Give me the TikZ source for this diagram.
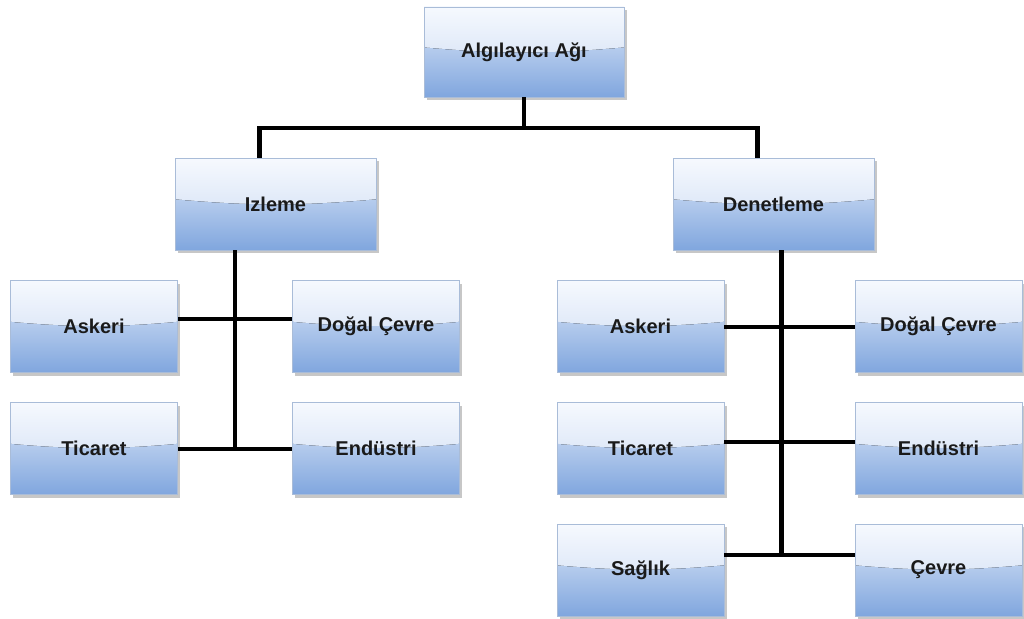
\documentclass[tikz,border=0pt]{standalone}
\usepackage{fontspec}
\setmainfont{Liberation Sans}
\usetikzlibrary{shadows,calc}

\definecolor{gA}{HTML}{F6F9FE}
\definecolor{gB}{HTML}{C9D9F2}
\definecolor{gC}{HTML}{B6CCED}
\definecolor{gD}{HTML}{80A6DE}
\definecolor{boxedge}{HTML}{A9BCD8}
\definecolor{txt}{HTML}{1A1A1A}

\begin{document}
\begin{tikzpicture}[x=1pt,y=1pt,
  conn/.style={line width=4.5pt, black},
  boxbase/.style={draw=boxedge, line width=0.7pt,
    font=\fontsize{20}{22}\selectfont\bfseries, text=txt, inner sep=0pt,
    drop shadow={shadow xshift=2.5pt, shadow yshift=-3pt, fill=black!22, opacity=1},
    path picture={
      \fill[top color=gA, bottom color=gB]
        (path picture bounding box.north west) rectangle (path picture bounding box.south east);
      \fill[top color=gC, bottom color=gD]
        ($(path picture bounding box.north west)!0.45!(path picture bounding box.south west)$)
        to[bend right=5]
        ($(path picture bounding box.north east)!0.45!(path picture bounding box.south east)$)
        -- (path picture bounding box.south east)
        -- (path picture bounding box.south west) -- cycle;
    }},
  hub/.style={boxbase, minimum width=201pt, minimum height=92pt},
  leaf/.style={boxbase, minimum width=167pt, minimum height=92pt}]

\useasboundingbox (0,0) rectangle (1024,-618);

% root and the two branches
\node[hub, minimum width=200pt, minimum height=90pt] (root) at (524,-52) {Algılayıcı Ağı};
\node[hub] (izl) at (275.5,-204) {Izleme};
\node[hub] (den) at (773.5,-204) {Denetleme};

% Izleme leaves
\node[leaf] (la) at (94,-326.5)  {Askeri};
\node[leaf] (ld) at (376,-326.5) {Doğal Çevre};
\node[leaf] (lt) at (94,-448.5)  {Ticaret};
\node[leaf] (le) at (376,-448.5) {Endüstri};

% Denetleme leaves
\node[leaf] (ra) at (640.5,-326.5) {Askeri};
\node[leaf] (rd) at (938.5,-326.5) {Doğal Çevre};
\node[leaf] (rt) at (640.5,-448.5) {Ticaret};
\node[leaf] (re) at (938.5,-448.5) {Endüstri};
\node[leaf] (rs) at (640.5,-570)   {Sağlık};
\node[leaf] (rc) at (938.5,-570)   {Çevre};

% junction points
\coordinate (j0) at (524,-128);
\coordinate (izlTop) at ($(izl.north west)!0.42!(izl.north east)$);
\coordinate (denTop) at ($(den.north west)!0.42!(den.north east)$);
\coordinate (izlBot) at ($(izl.south west)!0.30!(izl.south east)$);
\coordinate (denBot) at ($(den.south west)!0.54!(den.south east)$);
\coordinate (l1) at (izlBot |- 0,-319);
\coordinate (l2) at (izlBot |- 0,-449);
\coordinate (r1) at (denBot |- 0,-327);
\coordinate (r2) at (denBot |- 0,-442);
\coordinate (r3) at (denBot |- 0,-555);

% connectors
\draw[conn] (root.south) -- (j0);
\draw[conn] (izlTop) |- (j0) -| (denTop);
\draw[conn] (izlBot) -- (l2);
\draw[conn] (la.east |- l1) -- (ld.west |- l1);
\draw[conn] (lt.east |- l2) -- (le.west |- l2);
\draw[conn] (denBot) -- (r3);
\draw[conn] (ra.east |- r1) -- (rd.west |- r1);
\draw[conn] (rt.east |- r2) -- (re.west |- r2);
\draw[conn] (rs.east |- r3) -- (rc.west |- r3);
\end{tikzpicture}
\end{document}
